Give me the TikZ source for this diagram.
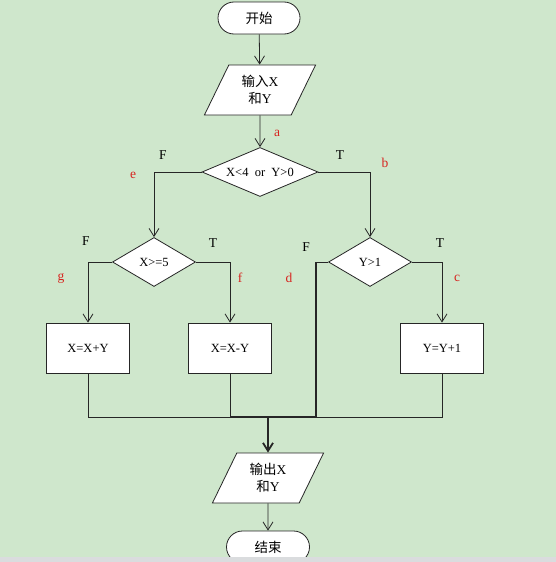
\documentclass[tikz,border=0pt]{standalone}
\usepackage{fontspec}
\setmainfont{Liberation Serif}
\newfontfamily\cjk{Noto Sans CJK SC}
\usetikzlibrary{arrows.meta, shapes.geometric, shapes.misc}
\definecolor{bggreen}{RGB}{207,231,204}
\definecolor{stripgray}{RGB}{218,220,222}
\definecolor{labelred}{RGB}{215,35,30}

\tikzset{
  flow/.style={draw=black!85, fill=white, line width=0.8pt, align=center, inner sep=0pt,
    font=\fontsize{13.5}{17}\selectfont},
  terminal/.style={flow, rounded rectangle, minimum width=82pt, minimum height=32pt},
  io/.style={flow, trapezium, trapezium left angle=64, trapezium right angle=116,
    minimum width=107pt, minimum height=50pt},
  decision/.style={flow, diamond, minimum height=49pt, font=\fontsize{12.5}{14}\selectfont},
  process/.style={flow, rectangle, minimum width=83pt, minimum height=50pt,
    font=\fontsize{12.5}{14}\selectfont},
  line/.style={draw=black!85, line width=0.8pt},
  boldline/.style={draw=black!85, line width=1.8pt},
  arrow/.style={line, -{Straight Barb[length=8pt,width=10pt]}},
  tf/.style={font=\fontsize{13.5}{15}\selectfont},
  pt/.style={text=labelred, font=\fontsize{13.5}{15}\selectfont},
}

\begin{document}
\begin{tikzpicture}[x=1pt, y=-1pt]
    % background
    \fill[bggreen] (0,0) rectangle (556,562);
    \useasboundingbox (0,0) rectangle (556,562);

    % main column
    \node[terminal] (start) at (259,18) {\cjk 开始};
    \node[io] (in) at (260,90) {{\cjk 输入}X\\{\cjk 和}Y};
    \node[decision, aspect=2.4, minimum width=116pt] (d1) at (260,172) {X<4~ or~ Y>0};

    % second level
    \node[decision, aspect=1.7, minimum width=83pt] (d2) at (154,262) {X>=5};
    \node[decision, aspect=1.7, minimum width=83pt] (d3) at (370,262) {Y>1};

    % boxes
    \node[process] (b1) at (88,348) {X=X+Y};
    \node[process] (b2) at (230,348) {X=X-Y};
    \node[process] (b3) at (442,348) {Y=Y+1};

    % output and end
    \coordinate (j) at (268,417);
    \coordinate (jd) at (316,417);
    \node[io] (out) at (268,478) {{\cjk 输出}X\\{\cjk 和}Y};
    \node[terminal, minimum width=83pt] (end) at (268,547) {\cjk 结束};

    % connectors
    \draw[arrow] (start) -- (in);
    \draw[arrow] (in) -- (d1);
    \draw[arrow] (d1.west) -| (d2.north);
    \draw[arrow] (d1.east) -| (d3.north);
    \draw[arrow] (d2.west) -| (b1.north);
    \draw[arrow] (d2.east) -| (b2.north);
    \draw[arrow] (d3.east) -| (b3.north);
    \draw[line] (d3.west) -- (d3.west -| jd);
    \draw[boldline] (d3.west -| jd) -- (jd);
    \draw[line] (b1.south) |- (b3.south |- j) -- (b3.south);
    \draw[line] (b2.south) -- (b2.south |- j);
    \draw[boldline] (b2.south |- j) -- (jd);
    \draw[boldline, -{Straight Barb[length=8pt,width=10pt]}] (j) -- (out);
    \draw[arrow] (out) -- (end);

    % T / F labels
    \node[tf] (f1) at (163,155) {F};
    \node[tf] (t1) at (340,155) {T};
    \node[tf] (f2) at (86,241) {F};
    \node[tf] (t2) at (213,243) {T};
    \node[tf] (f3) at (306,247) {F};
    \node[tf] (t3) at (440,243) {T};

    % point labels
    \node[pt] (pa) at (277,133) {a};
    \node[pt] (pb) at (385,163) {b};
    \node[pt] (pc) at (457,278) {c};
    \node[pt] (pd) at (289,278) {d};
    \node[pt] (pe) at (133,175) {e};
    \node[pt] (pf) at (240,278) {f};
    \node[pt] (pg) at (61,278) {g};

    % bottom strip
    \fill[stripgray] (0,557) rectangle (556,562);
\end{tikzpicture}
\end{document}
